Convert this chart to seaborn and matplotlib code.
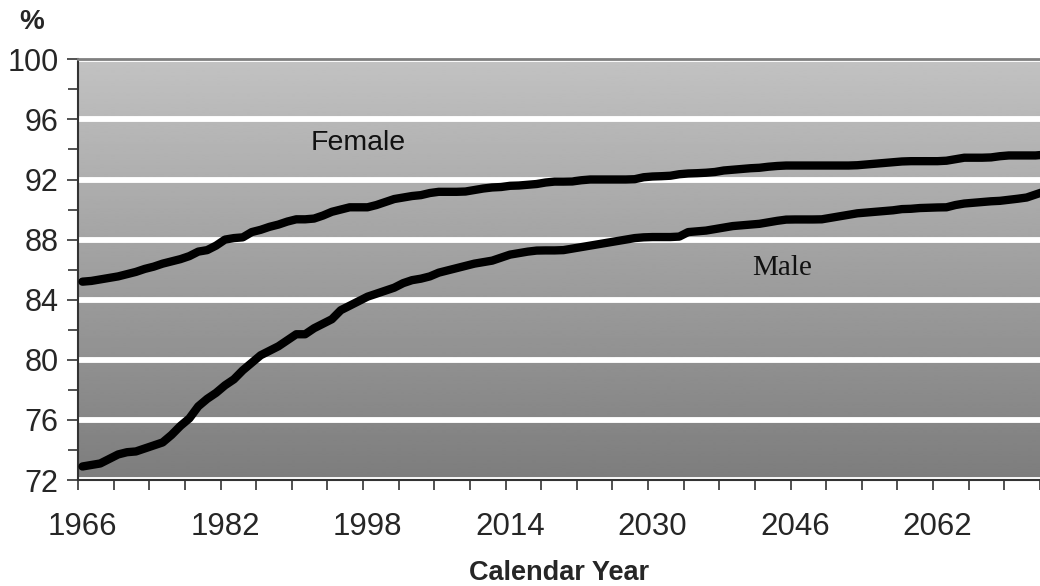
import numpy as np
import pandas as pd
import matplotlib
matplotlib.use("Agg")
import matplotlib.pyplot as plt
import seaborn as sns

# Annual series, 1966-2074
years = list(range(1966, 2075))

male = [
    72.9, 73.0, 73.1, 73.4, 73.7, 73.85, 73.9, 74.1, 74.3, 74.5,
    75.0, 75.6, 76.1, 76.9, 77.4, 77.8, 78.3, 78.7, 79.3, 79.8,
    80.3, 80.6, 80.9, 81.3, 81.7, 81.7, 82.1, 82.4, 82.7, 83.3,
    83.6, 83.9, 84.2, 84.4, 84.6, 84.8, 85.1, 85.3, 85.4, 85.55,
    85.8, 85.95, 86.1, 86.25, 86.4, 86.5, 86.6, 86.8, 87.0, 87.1,
    87.2, 87.27, 87.28, 87.28, 87.3, 87.4, 87.5, 87.6, 87.7, 87.8,
    87.9, 88.0, 88.1, 88.15, 88.17, 88.17, 88.17, 88.2, 88.5, 88.55,
    88.6, 88.7, 88.8, 88.9, 88.95, 89.0, 89.05, 89.15, 89.25, 89.33,
    89.34, 89.34, 89.34, 89.35, 89.45, 89.55, 89.65, 89.75, 89.8, 89.85,
    89.9, 89.95, 90.03, 90.05, 90.1, 90.12, 90.14, 90.15, 90.3, 90.4,
    90.45, 90.5, 90.55, 90.58, 90.65, 90.72, 90.8, 91.0, 91.2,
]

female = [
    85.2, 85.25, 85.35, 85.45, 85.55, 85.7, 85.85, 86.05, 86.2, 86.4,
    86.55, 86.7, 86.9, 87.2, 87.3, 87.6, 88.0, 88.1, 88.15, 88.5,
    88.65, 88.85, 89.0, 89.2, 89.35, 89.35, 89.4, 89.6, 89.85, 90.0,
    90.15, 90.15, 90.15, 90.3, 90.5, 90.7, 90.8, 90.9, 90.96, 91.1,
    91.18, 91.18, 91.18, 91.2, 91.3, 91.4, 91.47, 91.5, 91.58, 91.6,
    91.65, 91.7, 91.8, 91.86, 91.86, 91.87, 91.95, 92.0, 92.0, 92.0,
    92.0, 92.0, 92.02, 92.15, 92.2, 92.22, 92.25, 92.35, 92.4, 92.42,
    92.45, 92.5, 92.6, 92.65, 92.7, 92.75, 92.78, 92.85, 92.9, 92.93,
    92.93, 92.93, 92.93, 92.93, 92.93, 92.93, 92.93, 92.95, 93.0, 93.05,
    93.1, 93.15, 93.2, 93.22, 93.22, 93.22, 93.22, 93.25, 93.35, 93.45,
    93.45, 93.45, 93.47, 93.55, 93.6, 93.6, 93.6, 93.6, 93.65,
]

year_labels = [1966, 1982, 1998, 2014, 2030, 2046, 2062]
y_labels = [72, 76, 80, 84, 88, 92, 96, 100]

df = pd.DataFrame({
    "year": years * 2,
    "value": male + female,
    "sex": ["Male"] * len(years) + ["Female"] * len(years),
})

sns.set_theme(style="white")
plt.rcParams["font.family"] = ["Liberation Sans", "DejaVu Sans"]

fig = plt.figure(figsize=(10.4, 5.86), dpi=100)
ax = fig.add_axes([78 / 1040, 1 - 480 / 586, 1 - 78 / 1040, (480 - 59.3) / 586])

# Visible window: 1966..2073 categories
x0, x1 = 1965.5, 2073.5
y0, y1 = 72, 100

# Vertical grey gradient behind the plot (light at top, dark at bottom)
grad = np.linspace(0.49, 0.76, 256).reshape(-1, 1)
ax.imshow(grad, extent=[x0, x1, y0, y1], aspect="auto", cmap="gray",
          vmin=0, vmax=1, zorder=0, interpolation="bilinear", origin="lower")

# White horizontal grid lines
for v in y_labels:
    ax.axhline(v, color="white", lw=4.2, zorder=1)

sns.lineplot(data=df, x="year", y="value", hue="sex",
             palette={"Male": "black", "Female": "black"},
             lw=6, legend=False, ax=ax, zorder=3)
for ln in ax.lines:
    ln.set_solid_joinstyle("round")
    ln.set_solid_capstyle("round")

ax.set_xlim(x0, x1)
ax.set_ylim(y0, y1)

# Y axis: labels every 4, ticks every 2
ax.set_yticks(y_labels)
ax.set_yticks(np.arange(74, 100, 4), minor=True)
ax.tick_params(axis="y", which="major", direction="out", length=8, width=1.2,
               color="#333333", labelsize=22, pad=6, left=True)
ax.tick_params(axis="y", which="minor", direction="out", length=7, width=1.2,
               color="#333333", left=True)

# X axis: labels every 16 years, ticks between categories every 4 years
ax.set_xticks(year_labels)
ax.set_xticks(np.arange(x0, x1 + 0.01, 4), minor=True)
ax.tick_params(axis="x", which="major", length=0, labelsize=22.5, pad=23)
ax.tick_params(axis="x", which="minor", direction="out", length=7, width=1.2,
               color="#333333", bottom=True)

ax.set_xlabel("Calendar Year", fontsize=19.5, fontweight="bold", labelpad=13)
ax.set_ylabel("")

for side in ["left", "bottom"]:
    ax.spines[side].set_color("#333333")
    ax.spines[side].set_linewidth(1.5)
ax.spines["top"].set_color("#808080")
ax.spines["top"].set_linewidth(2)
ax.spines["right"].set_visible(False)

ax.text(1997.0, 94.45, "Female", fontsize=20.5, color="#111111",
        ha="center", va="center", zorder=4)
ax.text(2044.5, 86.1, "Male", fontsize=21, color="#111111",
        family=["Liberation Serif", "DejaVu Serif"],
        ha="center", va="center", zorder=4)

fig.text(32 / 1040, 1 - 22 / 586, "%", fontsize=20, fontweight="bold",
         ha="center", va="center")

fig.savefig("out.png", dpi=100)
